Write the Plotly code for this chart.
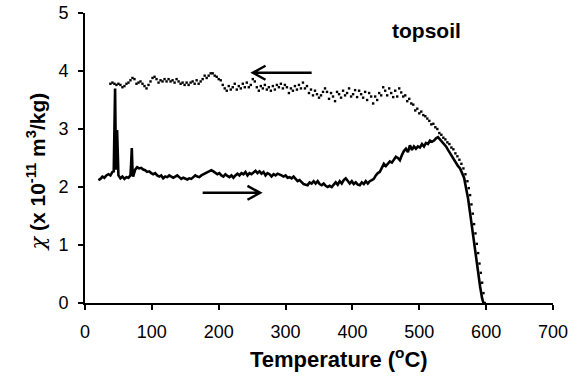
import plotly.graph_objects as go

# Heating curve (solid line)
heat_T = [20, 23, 26, 29, 32, 35, 38, 41, 43, 44, 45, 46, 47, 48, 49, 50, 53, 56, 59, 62, 65, 68, 69, 70, 71, 72,
          75, 78, 81, 84, 87, 90, 93, 96, 99, 102, 105, 108, 111, 114, 117, 120, 123, 126, 129, 132, 135, 138, 141,
          144, 147, 150, 153, 156, 159, 162, 165, 168, 171, 174, 177, 180, 183, 186, 189, 192, 195, 198, 201, 204,
          207, 210, 213, 216, 219, 222, 225, 228, 231, 234, 237, 240, 243, 246, 249, 252, 255, 258, 261, 264, 267,
          270, 273, 276, 279, 282, 285, 288, 291, 294, 297, 300, 303, 306, 309, 312, 315, 318, 321, 324, 327, 330,
          333, 336, 339, 342, 345, 348, 351, 354, 357, 360, 363, 366, 369, 372, 375, 378, 381, 384, 387, 390, 393,
          396, 399, 402, 405, 408, 411, 414, 417, 420, 423, 426, 429, 432, 435, 438, 441, 444, 447, 450, 453, 456,
          459, 462, 465, 468, 471, 474, 477, 480, 483, 486, 489, 492, 495, 498, 501, 504, 507, 510, 513, 516, 519,
          522, 525, 528, 531, 534, 537, 540, 543, 546, 549, 552, 555, 558, 561, 564, 567, 570, 573, 576, 579, 582,
          585, 588, 591, 594, 596]
heat_chi = [2.12, 2.14, 2.18, 2.16, 2.20, 2.22, 2.20, 2.26, 2.27, 2.90, 3.70, 2.60, 2.30, 2.98, 2.50, 2.20, 2.15,
            2.18, 2.14, 2.17, 2.16, 2.20, 2.40, 2.67, 2.30, 2.18, 2.30, 2.34, 2.32, 2.33, 2.30, 2.29, 2.26, 2.27,
            2.24, 2.22, 2.24, 2.20, 2.18, 2.20, 2.15, 2.18, 2.17, 2.20, 2.18, 2.16, 2.18, 2.20, 2.17, 2.14, 2.16,
            2.14, 2.13, 2.15, 2.14, 2.17, 2.20, 2.18, 2.17, 2.20, 2.22, 2.24, 2.26, 2.28, 2.29, 2.27, 2.25, 2.22,
            2.24, 2.20, 2.18, 2.22, 2.19, 2.17, 2.20, 2.16, 2.20, 2.23, 2.20, 2.24, 2.22, 2.26, 2.20, 2.24, 2.22,
            2.25, 2.28, 2.24, 2.27, 2.23, 2.26, 2.20, 2.24, 2.22, 2.18, 2.22, 2.20, 2.23, 2.22, 2.20, 2.18, 2.20,
            2.16, 2.17, 2.15, 2.18, 2.14, 2.10, 2.12, 2.08, 2.05, 2.04, 2.03, 2.08, 2.06, 2.10, 2.06, 2.10, 2.05,
            2.03, 2.06, 2.02, 2.00, 2.02, 2.00, 2.04, 2.08, 2.04, 2.10, 2.06, 2.12, 2.15, 2.10, 2.06, 2.10, 2.05,
            2.08, 2.04, 2.03, 2.08, 2.05, 2.10, 2.06, 2.10, 2.12, 2.14, 2.20, 2.24, 2.26, 2.32, 2.40, 2.36, 2.40,
            2.44, 2.42, 2.48, 2.52, 2.50, 2.46, 2.55, 2.62, 2.66, 2.60, 2.72, 2.64, 2.70, 2.66, 2.70, 2.68, 2.74,
            2.70, 2.76, 2.74, 2.80, 2.78, 2.80, 2.84, 2.86, 2.82, 2.78, 2.74, 2.70, 2.64, 2.58, 2.52, 2.46, 2.42,
            2.36, 2.32, 2.25, 2.16, 1.98, 1.80, 1.55, 1.28, 1.04, 0.78, 0.52, 0.28, 0.08, 0.00]

# Cooling curve (dotted markers)
cool_T = [598, 596, 594, 592, 590, 588, 586, 584, 582, 580, 578, 576, 574, 572, 569, 566, 563, 560, 557, 554, 551,
          548, 545, 542, 539, 536, 533, 530, 527, 524, 521, 518, 515, 512, 509, 506, 503, 500, 497, 494, 491, 488,
          485, 482, 479, 476, 473, 470, 467, 464, 461, 458, 455, 452, 449, 446, 443, 440, 437, 434, 431, 428, 425,
          422, 419, 416, 413, 410, 407, 404, 401, 398, 395, 392, 389, 386, 383, 380, 377, 374, 371, 368, 365, 362,
          359, 356, 353, 350, 347, 344, 341, 338, 335, 332, 329, 326, 323, 320, 317, 314, 311, 308, 305, 302, 299,
          296, 293, 290, 287, 284, 281, 278, 275, 272, 269, 266, 263, 260, 257, 254, 251, 248, 245, 242, 239, 236,
          233, 230, 227, 224, 221, 218, 215, 212, 209, 206, 203, 200, 197, 194, 191, 188, 185, 182, 179, 176, 173,
          170, 167, 164, 161, 158, 155, 152, 149, 146, 143, 140, 137, 134, 131, 128, 125, 122, 119, 116, 113, 110,
          107, 104, 101, 98, 95, 92, 89, 86, 83, 80, 77, 74, 71, 68, 65, 62, 59, 56, 53, 50, 47, 44, 41, 38]
cool_chi = [0.00, 0.17, 0.35, 0.52, 0.68, 0.86, 1.02, 1.20, 1.36, 1.54, 1.70, 1.86, 1.98, 2.10, 2.22, 2.32, 2.40,
            2.47, 2.53, 2.58, 2.65, 2.68, 2.74, 2.77, 2.82, 2.85, 2.90, 2.93, 3.00, 3.03, 3.09, 3.08, 3.14, 3.18,
            3.22, 3.24, 3.30, 3.27, 3.35, 3.32, 3.42, 3.44, 3.52, 3.48, 3.58, 3.56, 3.63, 3.70, 3.56, 3.66, 3.55,
            3.62, 3.70, 3.58, 3.66, 3.72, 3.58, 3.62, 3.50, 3.56, 3.44, 3.56, 3.62, 3.50, 3.64, 3.54, 3.60, 3.66,
            3.55, 3.67, 3.60, 3.56, 3.70, 3.62, 3.58, 3.66, 3.54, 3.60, 3.64, 3.48, 3.56, 3.62, 3.52, 3.64, 3.70,
            3.64, 3.58, 3.54, 3.60, 3.66, 3.58, 3.68, 3.62, 3.74, 3.70, 3.80, 3.70, 3.76, 3.68, 3.74, 3.66, 3.70,
            3.62, 3.72, 3.76, 3.70, 3.78, 3.72, 3.76, 3.68, 3.74, 3.66, 3.72, 3.68, 3.76, 3.70, 3.74, 3.66, 3.72,
            3.82, 3.86, 3.76, 3.72, 3.80, 3.72, 3.78, 3.70, 3.74, 3.68, 3.78, 3.72, 3.68, 3.74, 3.66, 3.70, 3.76,
            3.84, 3.86, 3.90, 3.92, 3.96, 3.96, 3.92, 3.88, 3.92, 3.86, 3.82, 3.78, 3.84, 3.78, 3.82, 3.80, 3.76,
            3.80, 3.76, 3.80, 3.78, 3.82, 3.86, 3.80, 3.84, 3.82, 3.86, 3.82, 3.86, 3.82, 3.84, 3.80, 3.86, 3.90,
            3.88, 3.82, 3.76, 3.70, 3.74, 3.78, 3.82, 3.80, 3.78, 3.86, 3.88, 3.84, 3.80, 3.78, 3.74, 3.72, 3.76,
            3.78, 3.76, 3.78, 3.80, 3.78]

x_ticks = [0, 100, 200, 300, 400, 500, 600, 700]
y_ticks = [0, 1, 2, 3, 4, 5]

FONT = "Liberation Sans, Arial, sans-serif"

fig = go.Figure()
fig.add_trace(go.Scatter(x=cool_T, y=cool_chi, mode="markers",
                         marker=dict(symbol="square", size=2.4, color="black", line=dict(width=0)),
                         cliponaxis=False, showlegend=False))
fig.add_trace(go.Scatter(x=heat_T, y=heat_chi, mode="lines",
                         line=dict(color="black", width=2.6), cliponaxis=False, showlegend=False))

# arrows (open heads) drawn as shapes
def arrow(x_tail, x_tip, y, dx=19, dy=0.12):
    s = 1 if x_tip > x_tail else -1
    return dict(type="path", xref="x", yref="y",
                path=f"M{x_tail},{y} L{x_tip},{y} M{x_tip - s*dx},{y + dy} L{x_tip},{y} L{x_tip - s*dx},{y - dy}",
                line=dict(color="black", width=2.4))

axis_common = dict(ticks="outside", ticklen=5, tickwidth=2, tickcolor="black",
                   showline=True, linecolor="black", linewidth=2, showgrid=False,
                   zeroline=False, tickfont=dict(size=18), ticklabelstandoff=6,
                   automargin=False, ticklabeloverflow="allow")

fig.update_layout(
    shapes=[arrow(339, 251, 3.97), arrow(176, 262, 1.9)],
    width=581, height=381,
    margin=dict(l=85, r=28, t=13, b=78),
    paper_bgcolor="white", plot_bgcolor="white",
    font=dict(family=FONT, color="black"),
    xaxis=dict(range=[0, 700], tickvals=x_ticks, **axis_common),
    yaxis=dict(range=[0, 5], tickvals=y_ticks, **axis_common),
    annotations=[
        dict(text="<b>Temperature (<sup>o</sup>C)</b>", xref="paper", yref="paper",
             x=0.543, y=-0.19, xanchor="center", yanchor="middle", showarrow=False,
             font=dict(size=22)),
        dict(text="<span style='font-family:DejaVu Serif'><i>χ</i></span><b> (x 10<sup>-11</sup> m<sup>3</sup>/kg)</b>",
             xref="paper", yref="paper",
             x=-0.1026, y=0.453, xanchor="center", yanchor="middle", showarrow=False,
             textangle=-90, font=dict(size=21)),
        dict(text="<b>topsoil</b>", xref="x", yref="y", x=511, y=4.7,
             xanchor="center", yanchor="middle", showarrow=False, font=dict(size=21)),
    ],
)

# remove the default 8px page margin so the 581x381 figure fills the window exactly
fig.write_html("out.html", config={"displayModeBar": False},
               post_script="document.body.style.margin='0px';")
